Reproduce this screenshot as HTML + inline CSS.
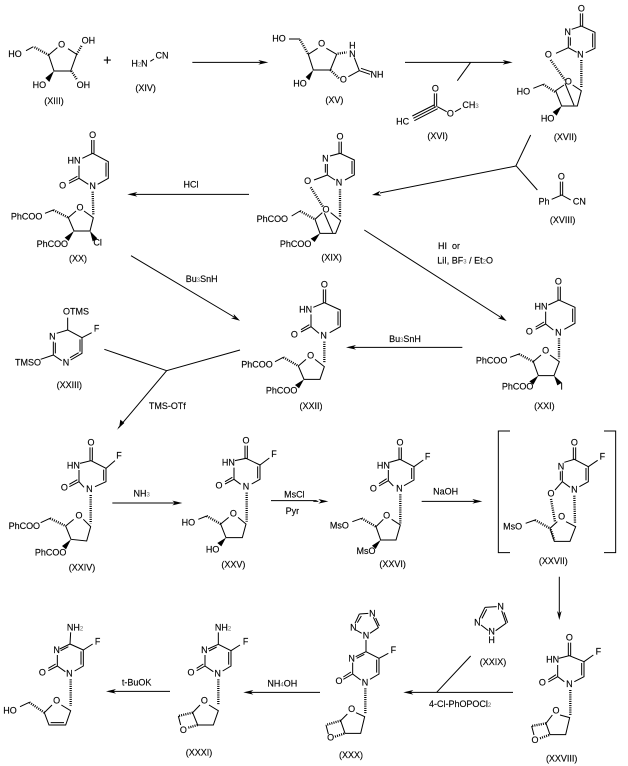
<!DOCTYPE html>
<html><head><meta charset="utf-8"><title>Scheme</title>
<style>
html,body{margin:0;padding:0;background:#fff;width:628px;height:766px;overflow:hidden}
svg{display:block}
text{font-family:"Liberation Sans",Arial,sans-serif;font-size:27px;text-anchor:middle;dominant-baseline:central;fill:#000;stroke:#000;stroke-width:.4}
text.s{text-anchor:start}
tspan.b{font-size:18px;fill:#666;stroke:none}
path{fill:none;stroke:#000;stroke-width:3}
path.h{stroke-width:7;stroke-dasharray:3 3.5}
polygon{fill:#000;stroke:none}
.abs path{stroke-width:1}
</style></head><body>
<svg width="628" height="766" viewBox="0 0 628 766" xmlns="http://www.w3.org/2000/svg">
<rect width="628" height="766" fill="#fff"/>

<!-- Z1 -->
<g transform="translate(0,0) scale(.33333)">
<path d="M172,143L146,165L162,213L212,213L230,163L204,146M78,152L100,140M451,184L462,177M577,187L790,187"/>
<path class="h" d="M146,165L102,141M230,163L246,135M214,213L232,240"/>
<polygon points="162,213 148,246 136,234"/>
<polygon points="805,187 775,180 783,187 775,194"/>
<text x="45" y="162">HO</text><text x="265" y="122">OH</text><text x="185" y="133">O</text>
<text x="118" y="255">HO</text><text x="250" y="255">OH</text><text x="162" y="303">(XIII)</text>
<text x="322" y="179" style="font-size:42px">+</text>
<text class="s" x="394" y="190">H<tspan class="b" dy="6">2</tspan><tspan dy="-6">N</tspan></text>
<text x="486" y="167">CN</text><text x="437" y="264">(XIV)</text>
</g>

<!-- XV -->
<g transform="translate(265,15) scale(.33333)">
<path d="M72,72L105,72M158,100L130,118L145,165L196,165L215,118L184,100M268,128L283,167L250,185M283,167L315,178M288,160L318,170"/>
<path class="h" d="M105,74L130,118M218,116L245,112M196,165L222,190"/>
<polygon points="145,165 133,196 122,186"/>
<text x="42" y="70">HO</text><text x="170" y="86">O</text><text x="262" y="92">H</text><text x="262" y="117">N</text>
<text x="235" y="193">O</text><text x="336" y="178">NH</text><text x="105" y="205">HO</text><text x="208" y="255">(XV)</text>
</g>

<!-- Z2 -->
<g transform="translate(380,0) scale(.33333)">
<path d="M75,187L385,187M272,187L232,242M452,405L408,497L472,570"/>
<polygon points="398,187 368,180 376,187 368,194"/>
<!-- XVI -->
<path d="M163,280L163,320M170,280L170,320M168,320L100,355M162,315L97,348M173,326L103,362M172,320L200,335M225,335L243,325"/>
<text x="166" y="265">O</text><text x="68" y="365">HC</text><text x="211" y="340">O</text>
<text class="s" x="247" y="315">CH<tspan class="b" dy="6">3</tspan></text><text x="173" y="408">(XVI)</text>
<!-- XVII -->
<path d="M601,40L601,78M608,40L608,78M575,88L604,78L645,97L645,145L617,158M638,100L638,142M590,157L565,143L565,110M571,112L571,137M565,143L528,160M552,255L527,272L545,318L592,318L604,272L578,255M555,250L582,316M460,265L490,253"/>
<path class="h" d="M604,180L604,262M512,180L555,240M490,253L527,277"/>
<polygon points="545,318 530,347 518,336"/>
<text x="604" y="25">O</text><text x="563" y="96">N</text><text x="601" y="163">N</text><text x="505" y="163">O</text>
<text x="565" y="245">O</text><text x="430" y="275">HO</text><text x="503" y="355">HO</text><text x="556" y="411">(XVII)</text>
<!-- XVIII -->
<path d="M541,545L541,585M548,545L548,585M515,598L545,585L572,600"/>
<text x="544" y="530">O</text><text x="492" y="605">Ph</text><text x="598" y="605">CN</text><text x="548" y="660">(XVIII)</text>
</g>

<!-- XX -->
<g transform="translate(0,125) scale(.33333)">
<path d="M275,45L275,85M282,45L282,85M247,100L278,85L325,110L325,160L293,178M318,113L318,155M265,178L237,160L237,122M237,160L207,175M232,154L207,168M228,258L205,278L222,318L270,318L280,278L252,258M135,265L160,255M747,208L400,208"/>
<path class="h" d="M278,200L280,270M160,255L205,278"/>
<polygon points="222,318 206,348 194,338"/>
<polygon points="270,318 292,340 278,349"/>
<polygon points="382,208 412,201 404,208 412,215"/>
<text x="278" y="30">O</text><text x="222" y="107">HN</text><text x="188" y="181">O</text><text x="278" y="183">N</text>
<text x="240" y="247">O</text><text x="80" y="275">PhCOO</text><text x="157" y="357">PhCOO</text><text x="293" y="353">Cl</text>
<text x="234" y="400">(XX)</text><text x="573" y="178">HCl</text>
</g>

<!-- XIX -->
<g transform="translate(240,130) scale(.33333)">
<path d="M297,35L297,70M304,35L304,70M270,78L300,70L343,90L343,135L315,150M336,93L336,132M285,150L262,135L262,102M256,102L256,128M262,135L222,150M247,248L225,268L240,310L287,310L302,272L272,248M253,250L278,308M155,258L180,243"/>
<path class="h" d="M300,178L300,262M212,172L250,232M180,243L225,268"/>
<polygon points="240,310 224,336 212,326"/>
<text x="300" y="20">O</text><text x="256" y="85">N</text><text x="297" y="157">N</text><text x="203" y="153">O</text>
<text x="258" y="238">O</text><text x="97" y="267">PhCOO</text><text x="167" y="342">PhCOO</text><text x="275" y="382">(XIX)</text>
</g>

<!-- XXI -->
<g transform="translate(320,250) scale(.33333)">
<path d="M714,110L714,150M721,110L721,150M685,165L717,150L765,172L765,220L733,238M758,176L758,216M700,240L677,222L677,185M677,222L647,238M672,216L647,231M663,315L640,335L655,377L702,377L718,335L690,315M570,322L597,312M427,292L95,292"/>
<path class="h" d="M717,265L717,325M597,312L640,335"/>
<polygon points="655,377 640,404 628,394"/>
<polygon points="702,377 726,398 712,406"/>
<polygon points="78,292 108,285 100,292 108,299"/>
<text x="715" y="95">O</text><text x="663" y="170">HN</text><text x="628" y="244">O</text><text x="715" y="247">N</text>
<text x="677" y="302">O</text><text x="515" y="332">PhCOO</text><text x="593" y="410">PhCOO</text><text x="725" y="410">I</text>
<text x="673" y="468">(XXI)</text>
<text x="255" y="267">Bu<tspan class="b" dy="6">3</tspan><tspan dy="-6">SnH</tspan></text>
</g>

<!-- XXII -->
<g transform="translate(235,270) scale(.33333)">
<path d="M265,58L265,98M272,58L272,98M235,112L268,98L316,120L316,170L284,188M309,124L309,166M252,190L228,170L228,133M228,170L198,186M223,164L198,179M213,268L190,288L207,328L255,328L268,290L240,268M120,275L145,262"/>
<path class="h" d="M268,215L268,280M145,262L190,288"/>
<polygon points="207,328 192,355 180,345"/>
<text x="268" y="43">O</text><text x="212" y="118">HN</text><text x="178" y="193">O</text><text x="266" y="197">N</text>
<text x="227" y="257">O</text><text x="66" y="284">PhCOO</text><text x="140" y="362">PhCOO</text><text x="228" y="408">(XXII)</text>
</g>

<!-- XXIII -->
<g transform="translate(0,270) scale(.33333)">
<path d="M203,143L203,180L246,203L246,250L212,270M240,208L240,245M210,263L236,248M185,272L160,255L160,215M166,218L166,250M170,190L203,180M246,203L275,188M122,268L160,255M313,238L500,302M720,240L500,302L355,474"/>
<polygon points="350,480 373,459 361,449 358,469"/>
<text x="228" y="124">OTMS</text><text x="290" y="176">F</text><text x="198" y="278">N</text><text x="157" y="200">N</text>
<text x="84" y="277">TMSO</text><text x="208" y="345">(XXIII)</text><text x="502" y="408">TMS-OTf</text>
<text x="605" y="27">Bu<tspan class="b" dy="6">3</tspan><tspan dy="-6">SnH</tspan></text>
</g>

<!-- XXIV XXV -->
<g transform="translate(0,430) scale(.33333)">
<path d="M270,52L270,92M277,52L277,92M240,100L273,92L318,115L318,155L285,170M311,119L311,152M252,172L237,155L237,120M237,155L208,170M232,149L208,163M318,115L345,92M221,268L197,288L213,328L260,333L272,290L250,268M122,278L150,265M337,219L535,219"/>
<path class="h" d="M272,195L272,280M150,265L197,288"/>
<polygon points="213,328 198,358 186,348"/>
<polygon points="547,219 517,212 525,219 517,226"/>
<text x="273" y="37">O</text><text x="220" y="107">HN</text><text x="193" y="172">O</text><text x="268" y="177">N</text><text x="357" y="77">F</text>
<text x="237" y="257">O</text><text x="73" y="288">PhCOO</text><text x="152" y="368">PhCOO</text><text x="246" y="413">(XXIV)</text>
<text x="425" y="190">NH<tspan class="b" dy="6">3</tspan></text>
<!-- XXV -->
<path d="M735,47L735,85M742,47L742,85M705,92L738,85L780,105L780,148L755,162M773,109L773,145M722,163L702,148L702,113M702,148L675,162M697,142L675,155M780,105L808,84M686,262L662,282L678,323L727,323L738,282L714,262M595,268L620,258M813,212L950,212"/>
<path class="h" d="M740,188L740,275M620,258L662,282"/>
<polygon points="678,323 664,349 652,339"/>
<text x="738" y="32">O</text><text x="685" y="98">HN</text><text x="657" y="167">O</text><text x="738" y="170">N</text><text x="822" y="72">F</text>
<text x="700" y="250">O</text><text x="565" y="278">HO</text><text x="638" y="358">HO</text><text x="700" y="404">(XXV)</text>
<text x="883" y="193">MsCl</text><text x="877" y="243">Pyr</text>
</g>

<!-- XXVI XXVII -->
<g transform="translate(320,425) scale(.33333)">
<path d="M-20,229L-5,229"/>
<polygon points="25,229 -5,222 3,229 -5,236"/>
<path d="M237,67L237,103M244,67L244,103M208,112L240,103L282,125L282,165L252,182M275,129L275,162M220,183L205,167L205,135M205,167L177,183M200,161L177,176M282,125L310,105M190,283L168,305L182,345L228,345L241,300L215,283M97,290L125,280M305,229L470,229"/>
<path class="h" d="M241,208L241,295M125,280L168,305"/>
<polygon points="182,345 167,372 156,362"/>
<polygon points="487,229 457,222 465,229 457,236"/>
<text x="240" y="52">O</text><text x="190" y="122">HN</text><text x="160" y="190">O</text><text x="238" y="190">N</text><text x="323" y="95">F</text>
<text x="200" y="271">O</text><text x="58" y="302">MsO</text><text x="138" y="378">MsO</text><text x="218" y="417">(XXVI)</text>
<text x="377" y="200">NaOH</text>
<!-- XXVII -->
<path d="M570,18L535,18L535,383L570,383M852,18L887,18L887,383L852,383"/>
<path d="M760,67L760,103M767,67L767,103M733,112L763,103L805,125L805,170L778,185M798,129L798,166M805,125L833,106M750,187L727,170L727,137M721,139L721,166M727,170L705,195M712,290L690,310L703,349L750,349L767,305L738,290M617,295L645,285"/>
<path class="h" d="M693,222L705,290M763,212L765,295M645,285L690,310M692,313L703,345"/>
<text x="763" y="52">O</text><text x="723" y="125">N</text><text x="693" y="205">O</text><text x="763" y="193">N</text><text x="847" y="95">F</text>
<text x="725" y="275">O</text><text x="578" y="305">MsO</text><text x="700" y="408">(XXVII)</text>
</g>

<!-- Z10 -->
<g transform="translate(320,590) scale(.33333)">
<!-- XXIX -->
<path d="M495,52L530,50M545,62L558,100L527,122M505,122L483,105M478,87L495,52M486,85L500,58M552,67L563,98"/>
<text x="542" y="50">N</text><text x="515" y="125">N</text><text x="515" y="150">H</text><text x="472" y="98">N</text><text x="519" y="216">(XXIX)</text>
<path d="M579,307L265,307M350,307L452,198"/>
<polygon points="250,307 280,300 272,307 280,314"/>
<text class="s" x="327" y="342">4-Cl-PhOPOCl<tspan class="b" dy="6">2</tspan></text>
<!-- XXVIII -->
<path d="M745,158L745,197M752,158L752,197M716,205L748,197L792,215L792,260L763,275M785,219L785,256M733,275L713,260L713,225M713,260L685,276M708,254L685,269M792,215L820,195M697,375L678,400L690,434L737,434L749,383L720,375M635,408L642,435"/>
<path class="h" d="M751,300L751,375M678,400L635,408M660,445L690,434"/>
<text x="748" y="143">O</text><text x="698" y="208">HN</text><text x="667" y="278">O</text><text x="748" y="282">N</text><text x="835" y="185">F</text>
<text x="708" y="362">O</text><text x="645" y="450">O</text><text x="725" y="505">(XXVIII)</text>
<!-- XXX -->
<path d="M118,72L145,70M160,82L175,113L150,130M125,130L108,120M105,100L118,72M112,98L124,78M167,84L178,108M138,150L138,185L177,205L177,252L150,268M170,209L170,248M138,185L107,200M133,193L110,205M98,218L98,252L122,270M98,252L70,268M93,246L70,261M177,205L205,190M82,372L62,392L75,430L122,430L134,380L108,368M18,405L25,432"/>
<path class="h" d="M136,295L136,370M62,392L18,405M45,440L75,430"/>
<text x="157" y="70">N</text><text x="138" y="137">N</text><text x="100" y="112">N</text><text x="95" y="205">N</text><text x="135" y="278">N</text>
<text x="57" y="273">O</text><text x="220" y="180">F</text><text x="95" y="357">O</text><text x="32" y="442">O</text><text x="93" y="495">(XXX)</text>
</g>

<!-- Z9 -->
<g transform="translate(0,590) scale(.33333)">
<!-- XXXI -->
<path d="M655,127L655,163L693,182L693,228L668,243M686,186L686,224M655,163L624,177M650,171L627,183M615,195L615,228L640,245M615,228L590,242M610,222L590,235M693,182L720,165M600,345L578,368L593,405L640,405L655,362L627,345M535,378L542,405M960,307L745,307"/>
<path class="h" d="M655,268L655,345M578,368L535,378M565,413L593,405"/>
<polygon points="730,307 760,300 752,307 760,314"/>
<text x="669" y="113">NH<tspan class="b" dy="6">2</tspan></text><text x="613" y="180">N</text><text x="573" y="247">O</text><text x="653" y="250">N</text><text x="737" y="155">F</text>
<text x="613" y="332">O</text><text x="550" y="420">O</text><text x="597" y="487">(XXXI)</text>
<text x="847" y="281">NH<tspan class="b" dy="6">4</tspan><tspan dy="-6">OH</tspan></text>
<text x="410" y="278">t-BuOK</text>
<path d="M510,304L333,304"/>
<polygon points="318,304 348,297 340,304 348,311"/>
<!-- XXXII -->
<path d="M212,127L210,162L250,180L250,228L224,243M243,184L243,224M210,162L179,177M205,170L182,182M172,195L172,228L196,245M172,228L145,242M167,222L145,235M250,180L278,162M156,345L133,368L147,405L197,405L212,362L184,345M152,398L192,398M60,350L88,337"/>
<path class="h" d="M212,268L212,348M88,337L133,368"/>
<text x="225" y="113">NH<tspan class="b" dy="6">2</tspan></text><text x="170" y="180">N</text><text x="127" y="247">O</text><text x="208" y="250">N</text><text x="293" y="155">F</text>
<text x="170" y="332">O</text><text x="30" y="362">HO</text>
</g>

<!-- Absolute connectors -->
<g class="abs">
<path d="M516,166L380,193M131,255.7L234,317M364.3,230L501,317.5M559.3,576.7L559.3,613"/>
<polygon points="372,195 381.3,195.7 378.4,193.7 380.3,190.8"/>
<polygon points="240,320.7 231,318.2 234.4,317.4 233.6,314"/>
<polygon points="506.7,321 497.8,318.3 501.2,317.5 500.5,314.1"/>
<polygon points="559.3,620 557,611 559.3,613.5 561.6,611"/>
</g>
<g transform="translate(438,246) scale(.33333)"><text class="s" x="0" y="0">HI&#160;&#160;or</text></g>
<g transform="translate(437.3,260.5) scale(.33333)"><text class="s" x="0" y="0">LiI, BF<tspan class="b" dy="6">3</tspan><tspan dy="-6"> / Et</tspan><tspan class="b" dy="6">2</tspan><tspan dy="-6">O</tspan></text></g>
</svg>
</body></html>
